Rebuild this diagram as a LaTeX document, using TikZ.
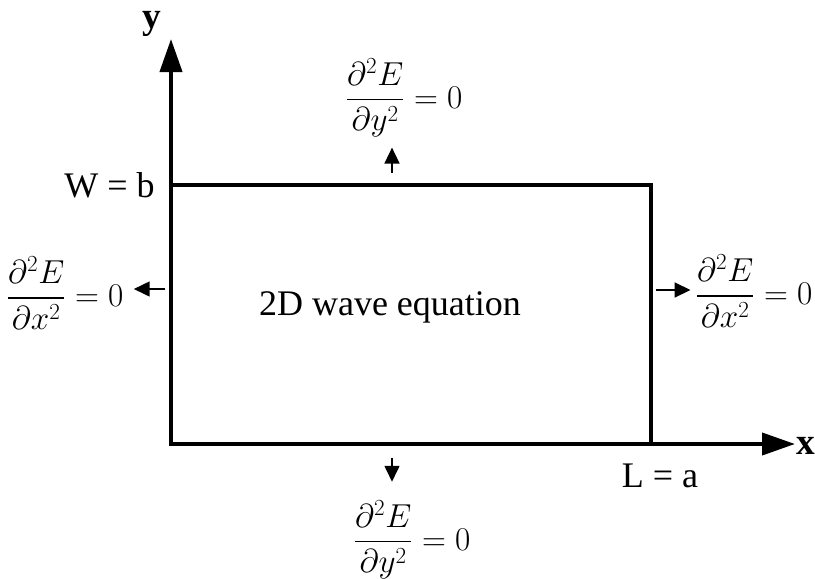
\documentclass[tikz,border=0pt]{standalone}
\usepackage[no-math]{fontspec}
\setmainfont{LiberationSerif}[Extension=.ttf, UprightFont=*-Regular, BoldFont=*-Bold, ItalicFont=*-Italic, BoldItalicFont=*-BoldItalic]
\usepackage{amsmath}
\usepackage{tikz}
\usetikzlibrary{arrows.meta,positioning,calc}
\tikzset{
  eje/.style={line width=3pt, line join=miter, {Triangle[length=24.75pt, width=16.5pt]}-{Triangle[length=24.75pt, width=16.5pt]}},
  borde/.style={line width=2.6pt, line join=miter},
  arrcc/.style={line width=1.9pt, -{Triangle[length=12pt, width=11pt]}},
  ecua/.style={inner sep=0pt, font=\fontsize{24}{28}\selectfont},
  texto/.style={inner sep=0pt, font=\fontsize{27}{32}\selectfont},
  ejelbl/.style={inner sep=0pt, font=\fontsize{28}{32}\selectfont\bfseries},
}

\begin{document}
\begin{tikzpicture}[x=0.75pt, y=-0.75pt]
\useasboundingbox (0,0) rectangle (815,579);
% ejes y dominio
\coordinate (O) at (171,444);
\coordinate (ytip) at (171,39);
\coordinate (xtip) at (795,444);
\coordinate (C) at (651,185);
\draw[borde] (O |- C) -- (C) -- (C |- O);
\draw[eje] (ytip) -- (O) -- (xtip);
\node[ejelbl] (ylbl) at (152,24) {y};
\node[ejelbl] (xlbl) at (806,446) {x};
\node[texto, anchor=east] (wlbl) at (155,185) {W = b};
\node[texto] (llbl) at (660,476) {L = a};
\node[texto] (ecuonda) at (390,307) {2D wave equation};
% condiciones de borde
\node[ecua] (eqtop) at (404,98) {$\dfrac{\partial^2 E}{\partial y^2} = 0$};
\node[ecua] (eqbot) at (412,540) {$\dfrac{\partial^2 E}{\partial y^2} = 0$};
\node[ecua] (eqizq) at (65,293) {$\dfrac{\partial^2 E}{\partial x^2} = 0$};
\node[ecua] (eqder) at (754,291) {$\dfrac{\partial^2 E}{\partial x^2} = 0$};
\coordinate (arN) at (392,173);
\coordinate (arS) at (392,458);
\coordinate (arW) at (165,289);
\coordinate (arE) at (656,290);
\draw[arrcc, shorten >=7.5pt] (arN) -- (arN |- eqtop.south);
\draw[arrcc, shorten >=14pt] (arS) -- (arS |- eqbot.north);
\draw[arrcc, shorten >=7.5pt] (arW) -- (eqizq.east |- arW);
\draw[arrcc, shorten >=3.5pt] (arE) -- (eqder.west |- arE);
\end{tikzpicture}
\end{document}
